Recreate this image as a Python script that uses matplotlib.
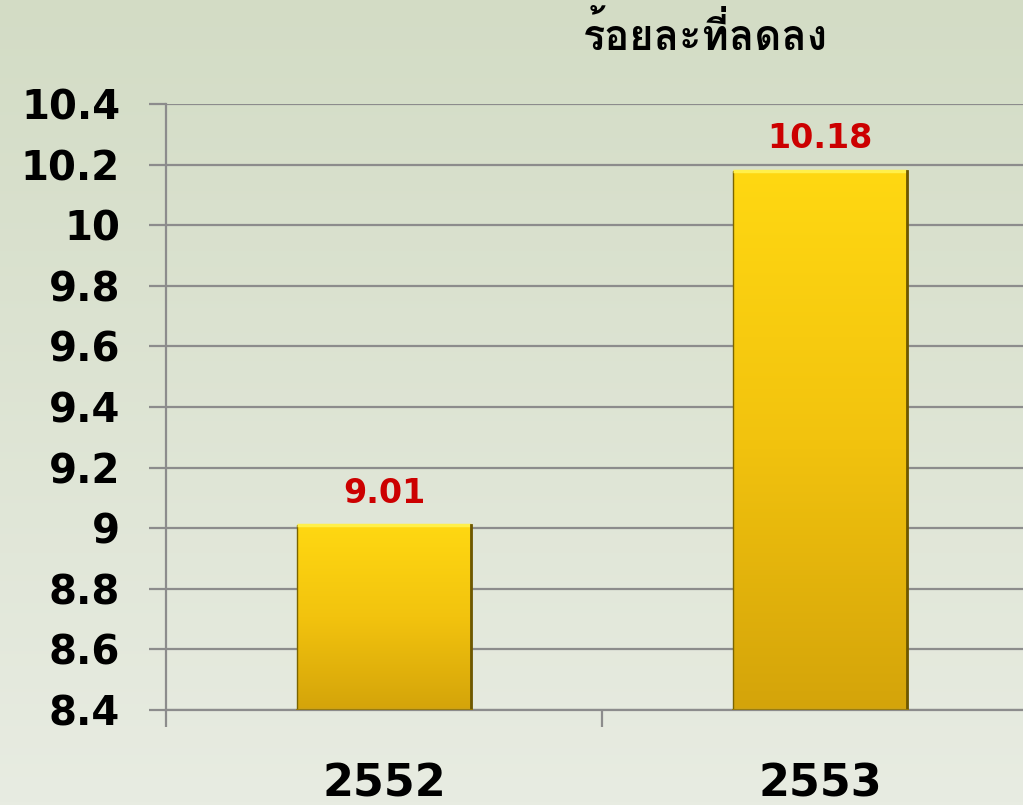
import numpy as np
import matplotlib
matplotlib.use("Agg")
import matplotlib.pyplot as plt
from matplotlib import font_manager
from matplotlib.ft2font import FT2Font
from matplotlib.colors import LinearSegmentedColormap

categories = ["2552", "2553"]
values = [9.01, 10.18]
value_labels = ["9.01", "10.18"]
yticks = [8.4, 8.6, 8.8, 9.0, 9.2, 9.4, 9.6, 9.8, 10.0, 10.2, 10.4]
ytick_labels = ["8.4", "8.6", "8.8", "9", "9.2", "9.4", "9.6", "9.8", "10", "10.2", "10.4"]
title = "ร้อยละที่ลดลง"

# find a font covering Thai (prefer bold)
thai_font = None
thai_bold = False
for f in font_manager.fontManager.ttflist:
    try:
        ft = FT2Font(f.fname)
        if ft.get_char_index(ord("ร")) and ft.get_char_index(ord("้")):
            w = f.weight if isinstance(f.weight, int) else (700 if "bold" in str(f.weight).lower() else 400)
            if thai_font is None or (w >= 600 and not thai_bold):
                thai_font = f.name
                thai_bold = w >= 600
    except Exception:
        pass
title_family = [thai_font, "DejaVu Sans"] if thai_font else ["DejaVu Sans"]

fig = plt.figure(figsize=(10.23, 8.05), dpi=100)
# background gradient
bg = fig.add_axes([0, 0, 1, 1], zorder=-10)
grad = np.linspace(0, 1, 256).reshape(-1, 1)
bg_cmap = LinearSegmentedColormap.from_list("bg", ["#d3dcc5", "#e8ece2"])
bg.imshow(grad, aspect="auto", cmap=bg_cmap, extent=[0, 1, 0, 1], origin="upper")
bg.set_axis_off()

ax = fig.add_axes([166/1023, 1-710/805, 872/1023, (710-104)/805])
ax.patch.set_alpha(0)
x = np.arange(len(categories))
ax.set_xlim(-0.5, len(categories) - 0.5)
ax.set_ylim(8.4, 10.4)

bars = ax.bar(x, [v - 8.4 for v in values], bottom=8.4, width=0.4,
              color="none", edgecolor="#7a6400", linewidth=1.0, zorder=3)
bar_cmap = LinearSegmentedColormap.from_list("bar", ["#ffd812", "#f2c30e", "#d4a40a"])
for b in bars:
    x0, y0 = b.get_x(), b.get_y()
    w, h = b.get_width(), b.get_height()
    im = ax.imshow(grad, aspect="auto", cmap=bar_cmap,
                   extent=[x0, x0 + w, y0, y0 + h], origin="upper", zorder=2)
    im.set_clip_path(b)
    # bevel highlights
    ax.plot([x0, x0 + w], [y0 + h, y0 + h], color="#fff04a", lw=2.5, zorder=3.5,
            solid_capstyle="butt")
    ax.plot([x0 + w, x0 + w], [y0, y0 + h], color="#6e5800", lw=2, zorder=3.5)
    ax.plot([x0, x0 + w], [y0, y0], color="#9a7c05", lw=2, zorder=3.5)

for xi, v, lab in zip(x, values, value_labels):
    ax.annotate(lab, (xi, v), xytext=(0, 11), textcoords="offset points",
                ha="center", va="bottom", color="#cc0000", fontsize=24,
                fontweight="bold", zorder=5)

ax.set_yticks(yticks)
ax.set_yticklabels(ytick_labels, fontsize=29, fontweight="bold")
ax.yaxis.grid(True, color="#8c8c8c", linewidth=1.6, zorder=1)
ax.tick_params(axis="y", length=12, width=1.6, color="#8c8c8c", pad=21)

ax.set_xticks(x)
ax.set_xticklabels(categories, fontsize=32, fontweight="bold")
ax.tick_params(axis="x", which="major", length=0, pad=38)
ax.set_xticks([-0.5, 0.5, 1.5], minor=True)
ax.tick_params(axis="x", which="minor", length=12, width=1.6, color="#8c8c8c")

for s in ["top", "right"]:
    ax.spines[s].set_visible(False)
ax.spines["left"].set_color("#8c8c8c")
ax.spines["left"].set_linewidth(1.6)
ax.spines["bottom"].set_color("#8c8c8c")
ax.spines["bottom"].set_linewidth(1.6)
ax.set_axisbelow(True)

fig.text(705/1023, 1 - 35/805, title, ha="center", va="center", fontsize=30,
         fontweight="bold", family=title_family)

fig.savefig("out.png", dpi=100)
